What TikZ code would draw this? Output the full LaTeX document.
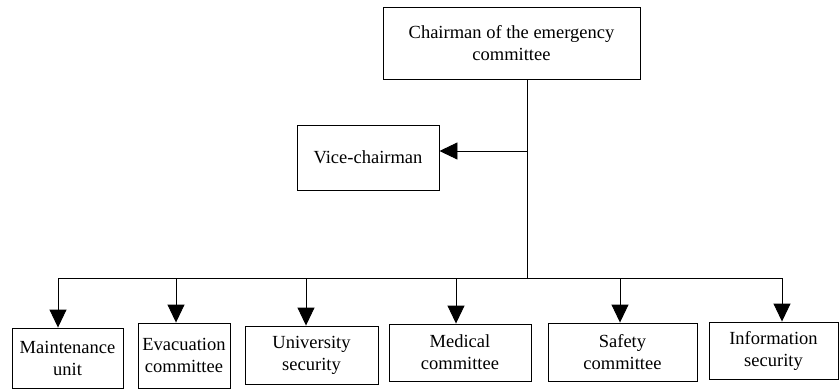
\documentclass[tikz,border=0pt]{standalone}
\usepackage{fontspec}
\setmainfont{Liberation Serif}
\usetikzlibrary{arrows.meta}
\begin{document}
\begin{tikzpicture}[x=1pt,y=-1pt,line width=0.9pt,
		box/.style={draw,align=center,inner sep=0pt,font=\fontsize{18.5}{22}\selectfont},
		arr/.style={-{Triangle[length=18pt,width=17pt]}}]
		\useasboundingbox (0,0) rectangle (839,389);
		% top of the tree
		\node[box,minimum width=257pt,minimum height=72pt] (chair) at (511.5,43) {Chairman of the emergency\\committee};
		\node[box,minimum width=142pt,minimum height=65pt] (vice) at (368,157.5) {Vice-chairman};
		% committees
		\node[box,minimum width=111pt,minimum height=60pt] (maint) at (67.5,358) {Maintenance\\unit};
		\node[box,minimum width=92pt,minimum height=65pt] (evac) at (184,355.5) {Evacuation\\committee};
		\node[box,minimum width=133pt,minimum height=58pt] (univ) at (311.5,355) {University\\security};
		\node[box,minimum width=142pt,minimum height=57pt] (med) at (460,352.5) {Medical\\committee};
		\node[box,minimum width=149pt,minimum height=58pt] (safe) at (622.5,352) {Safety\\committee};
		\node[box,minimum width=129pt,minimum height=57pt] (info) at (773.5,350.5) {Information\\security};
		% trunk and bus
		\coordinate (trunk) at (527,278);
		\coordinate (vj) at (527,151);
		\draw (chair.south -| trunk)--(trunk);
		\draw[arr] (vj)--(vj -| vice.east);
		\draw (58,278)--(782,278);
		\foreach \x/\n in {58/maint,176/evac,306/univ,456/med,620/safe,782/info}{
			\coordinate (b\n) at (\x,278);
			\draw[arr] (b\n)--(b\n |- \n.north);
		}
	    \end{tikzpicture}
\end{document}
